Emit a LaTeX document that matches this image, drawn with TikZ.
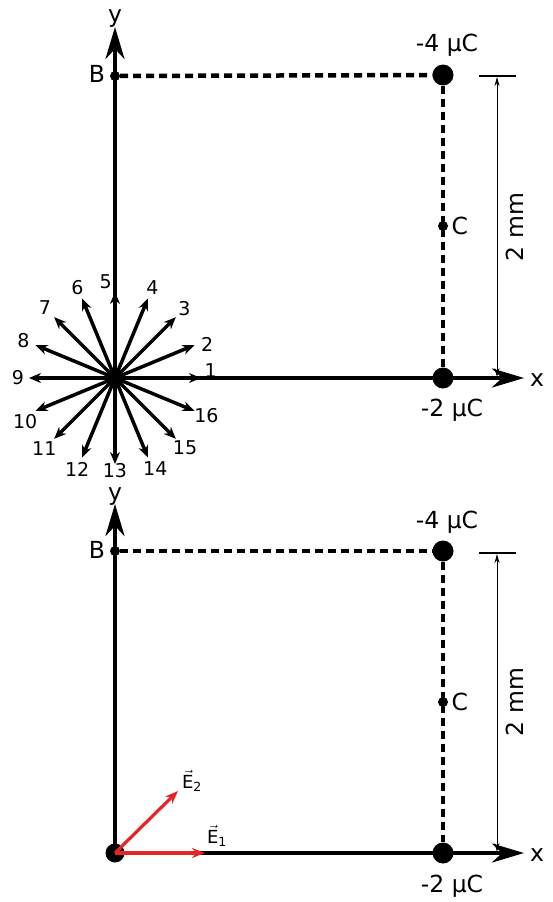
\documentclass[tikz,border=0pt]{standalone}
\usepackage{amsmath}
\usepackage{fontspec}
\setmainfont{DejaVu Sans}
\usepackage{tikz}
\usetikzlibrary{arrows.meta,calc}
\definecolor{evec}{RGB}{228,38,38}

\begin{document}
\begin{tikzpicture}[x=1pt,y=-1pt,
  axis/.style={line width=4pt,-{Stealth[length=32pt,width=19pt,inset=10pt]}},
  guide/.style={line width=4.5pt,dash pattern=on 8pt off 5pt},
  dimline/.style={line width=1pt,{Stealth[length=9pt,width=5pt]}-{Stealth[length=9pt,width=5pt]}},
  charge/.style={circle,fill=black,inner sep=0pt,minimum size=21pt},
  smalldot/.style={circle,fill=black,inner sep=0pt,minimum size=10pt},
  ray/.style={line width=3.5pt,-{Stealth[length=12pt,width=10pt]}},
  efield/.style={evec,line width=3.2pt,-{Stealth[length=13pt,width=10pt]}},
  lbl/.style={font=\fontsize{23.5}{23.5}\selectfont},
  num/.style={font=\fontsize{19}{19}\selectfont}]
\useasboundingbox (0,0) rectangle (552,902);

% upper panel
\coordinate (O1) at (115,378);
\coordinate (xend1) at (524,378);
\coordinate (yend1) at (115,27);
\node[smalldot] (B1) at (115,76) {};
\node[charge] (qa1) at (443,75) {};
\node[smalldot] (C1) at (443,226) {};
\node[charge] (qb1) at (443,378) {};
\draw[guide] (B1) -- (qa1);
\draw[guide] (qa1) -- (qb1);
\draw[axis] (O1) -- (xend1);
\draw[axis] (O1) -- (yend1);
\node[lbl] (qa1lbl) at (447,45) {-4 µC};
\node[lbl] (qb1lbl) at (452,410) {-2 µC};
\node[lbl] (B1lbl) at (97,74) {B};
\node[lbl,anchor=west] (C1lbl) at (448,226) {C};
\node[lbl] (x1lbl) at (537,380) {x};
\node[lbl] (y1lbl) at (115,19) {y};
\coordinate (bar1a) at (479,76);
\coordinate (bar1b) at (516,76);
\coordinate (d1a) at (497,77);
\coordinate (d1b) at (497,377);
\draw[line width=1.2pt] (bar1a) -- (bar1b);
\draw[dimline] (d1a) -- (d1b);
\node[lbl,rotate=90] (dim1) at (515,227) {2 mm};
% 16 directions
\foreach \i in {1,...,16}{
  \pgfmathsetmacro\a{(\i-1)*22.5}
  \coordinate (r\i) at ($(O1)+(\a:86pt)$);
  \draw[ray] (O1) -- (r\i);
}
\foreach \i/\la/\lr in {1/4.5/96,2/20/98,3/45/98,4/67.5/98,5/95.5/97,6/112.5/98,
  7/135/99,8/157.5/99,9/180/97,10/206/100,11/225/100,12/247.5/99,13/270/93,
  14/294/99,15/315/99,16/337.5/99}
  \node[num] (n\i) at ($(O1)+(\la:\lr pt)$) {\i};

% lower panel
\coordinate (O2) at (115,853);
\coordinate (xend2) at (524,853);
\coordinate (yend2) at (115,504);
\node[smalldot] (B2) at (115,551) {};
\node[charge] (qa2) at (443,551) {};
\node[smalldot] (C2) at (443,702) {};
\node[charge] (qb2) at (443,853) {};
\draw[guide] (B2) -- (qa2);
\draw[guide] (qa2) -- (qb2);
\draw[axis] (O2) -- (xend2);
\draw[axis] (O2) -- (yend2);
\node[charge,minimum size=19pt] (O2dot) at (O2) {};
\node[lbl] (qa2lbl) at (447,522) {-4 µC};
\node[lbl] (qb2lbl) at (452,886) {-2 µC};
\node[lbl] (B2lbl) at (97,550) {B};
\node[lbl,anchor=west] (C2lbl) at (448,702) {C};
\node[lbl] (x2lbl) at (537,855) {x};
\node[lbl] (y2lbl) at (115,497) {y};
\coordinate (bar2a) at (479,553);
\coordinate (bar2b) at (516,553);
\coordinate (d2a) at (497,554);
\coordinate (d2b) at (497,852);
\draw[line width=1.2pt] (bar2a) -- (bar2b);
\draw[dimline] (d2a) -- (d2b);
\node[lbl,rotate=90] (dim2) at (515,702) {2 mm};
% field vectors
\coordinate (e1) at (205,853);
\coordinate (e2) at (178,791);
\draw[efield] (O2) -- (e1);
\draw[efield] (O2) -- (e2);
\node[num,font=\fontsize{18}{18}\selectfont] (E1lbl) at (217,836) {$\vec{\text{E}}_{\text{1}}$};
\node[num,font=\fontsize{18}{18}\selectfont] (E2lbl) at (192,781) {$\vec{\text{E}}_{\text{2}}$};
\end{tikzpicture}
\end{document}
